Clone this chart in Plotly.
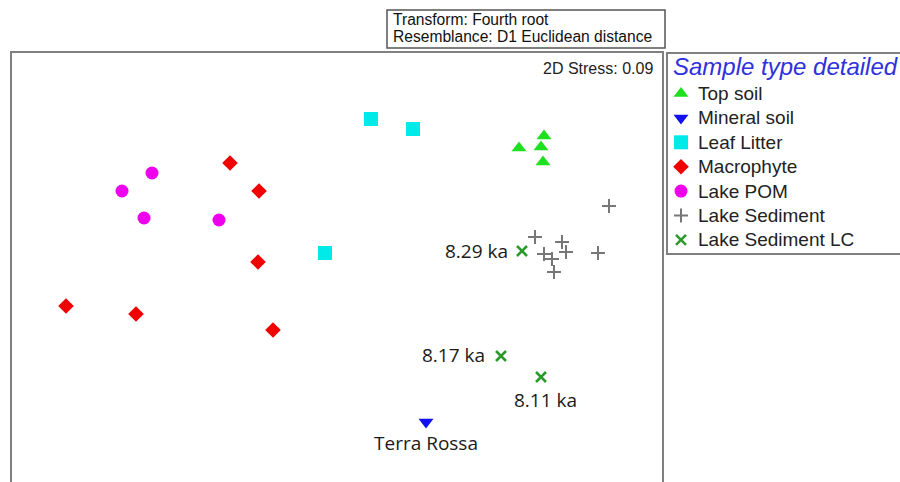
import plotly.graph_objects as go

# ---- data (arbitrary nMDS units) ----
top_soil_x = [1.79, 2.04, 2.01, 2.03]
top_soil_y = [1.32, 1.44, 1.33, 1.18]

mineral_x = [0.86]
mineral_y = [-1.42]
mineral_labels = ["Terra Rossa"]

leaf_x = [0.31, 0.73, -0.15]
leaf_y = [1.61, 1.51, 0.27]

macro_x = [-1.10, -0.81, -0.82, -2.74, -2.04, -0.67]
macro_y = [1.17, 0.89, 0.18, -0.26, -0.34, -0.50]

pom_x = [-1.88, -2.18, -1.96, -1.21]
pom_y = [1.07, 0.89, 0.62, 0.60]

sed_x = [2.69, 1.95, 2.22, 2.04, 2.12, 2.26, 2.58, 2.14]
sed_y = [0.74, 0.43, 0.38, 0.26, 0.21, 0.28, 0.27, 0.08]

lc_x = [1.82, 1.61, 2.01]
lc_y = [0.29, -0.76, -0.97]
lc_labels = ["8.29 ka", "8.17 ka", "8.11 ka"]

categories = ["Top soil", "Mineral soil", "Leaf Litter", "Macrophyte",
              "Lake POM", "Lake Sediment", "Lake Sediment LC"]
stress_text = "2D Stress: 0.09"
info_lines = ["Transform: Fourth root", "Resemblance: D1 Euclidean distance"]
legend_title = "Sample type detailed"

# ---- styles ----
styles = {
    "Top soil": dict(symbol="triangle-up", size=13, color="#1fe01f", line=dict(width=0)),
    "Mineral soil": dict(symbol="triangle-down", size=13, color="#1010f0", line=dict(width=0)),
    "Leaf Litter": dict(symbol="square", size=14, color="#00eaea", line=dict(width=0)),
    "Macrophyte": dict(symbol="diamond", size=12, color="#f00000", line=dict(width=0)),
    "Lake POM": dict(symbol="circle", size=13, color="#ee00ee", line=dict(width=0)),
    "Lake Sediment": dict(symbol="cross-thin", size=10, color="#777777",
                          line=dict(width=2, color="#777777")),
    "Lake Sediment LC": dict(symbol="x-thin", size=10, color="#2a9a2a",
                             line=dict(width=2.5, color="#2a9a2a")),
}
series = {
    "Top soil": (top_soil_x, top_soil_y),
    "Mineral soil": (mineral_x, mineral_y),
    "Leaf Litter": (leaf_x, leaf_y),
    "Macrophyte": (macro_x, macro_y),
    "Lake POM": (pom_x, pom_y),
    "Lake Sediment": (sed_x, sed_y),
    "Lake Sediment LC": (lc_x, lc_y),
}

W, H = 900, 482
fig = go.Figure()

for name in categories:
    xs, ys = series[name]
    fig.add_trace(go.Scatter(x=xs, y=ys, mode="markers", name=name,
                             marker=styles[name], showlegend=False,
                             hoverinfo="skip", cliponaxis=False))

# manual legend markers on a dedicated axis
for i, name in enumerate(categories):
    fig.add_trace(go.Scatter(x=[14], y=[i], mode="markers", marker=styles[name],
                             xaxis="x2", yaxis="y2", showlegend=False,
                             hoverinfo="skip", cliponaxis=False))

label_font = dict(family="Open Sans", size=19, color="#1a1a1a")
ann = []
# LC labels
offsets = [dict(xanchor="right", yanchor="middle", xshift=-12, yshift=0),
           dict(xanchor="right", yanchor="middle", xshift=-14, yshift=1),
           dict(xanchor="center", yanchor="middle", xshift=4, yshift=-23)]
for x, y, t, o in zip(lc_x, lc_y, lc_labels, offsets):
    ann.append(dict(x=x, y=y, xref="x", yref="y", text=t, showarrow=False,
                    font=label_font, **o))
for x, y, t in zip(mineral_x, mineral_y, mineral_labels):
    ann.append(dict(x=x, y=y, xref="x", yref="y", text=t, showarrow=False,
                    font=label_font, xanchor="center", yanchor="middle", yshift=-21))

# stress
ann.append(dict(x=655 / W, y=1 - 69 / H, xref="paper", yref="paper", text=stress_text,
                showarrow=False, xanchor="right", yanchor="middle",
                font=dict(family="Liberation Sans, Arial", size=16, color="#222222")))
# info box lines
for j, line in enumerate(info_lines):
    ann.append(dict(x=391 / W, y=1 - (20 + 17 * j) / H, xref="paper", yref="paper",
                    text=line, showarrow=False, xanchor="left", yanchor="middle",
                    font=dict(family="Liberation Sans, Arial", size=15.6, color="#111111")))
# legend title
ann.append(dict(x=671 / W, y=1 - 67 / H, xref="paper", yref="paper", text=legend_title,
                showarrow=False, xanchor="left", yanchor="middle",
                font=dict(family="Liberation Sans, Arial", size=24, color="#3030dd",
                          style="italic")))
# legend labels
for i, name in enumerate(categories):
    ann.append(dict(x=29, y=i, xref="x2", yref="y2", text=name, showarrow=False,
                    xanchor="left", yanchor="middle",
                    font=dict(family="Liberation Sans, Arial", size=19, color="#222222")))

shapes = [
    # plot frame (bottom runs off the picture)
    dict(type="rect", xref="paper", yref="paper", x0=11 / W, x1=663 / W,
         y0=-0.1, y1=1 - 52 / H, line=dict(color="#808080", width=2)),
    # legend frame
    dict(type="rect", xref="paper", yref="paper", x0=667 / W, x1=1.05,
         y0=1 - 254 / H, y1=1 - 53 / H, line=dict(color="#808080", width=2)),
    # info box
    dict(type="rect", xref="paper", yref="paper", x0=387 / W, x1=665 / W,
         y0=1 - 48 / H, y1=1 - 10 / H, line=dict(color="#555555", width=1.5)),
]

fig.update_layout(
    width=W, height=H,
    margin=dict(l=0, r=0, t=0, b=0),
    paper_bgcolor="white", plot_bgcolor="white",
    showlegend=False,
    xaxis=dict(domain=[11 / W, 663 / W], range=[-3.29, 3.23], visible=False, fixedrange=True),
    yaxis=dict(domain=[0, 1 - 52 / H], range=[-2.02, 2.28], visible=False, fixedrange=True),
    xaxis2=dict(domain=[667 / W, 1], range=[0, 233], visible=False, anchor="y2",
                fixedrange=True),
    yaxis2=dict(domain=[0, 1], range=[(482 - 93.5) / 24.4, -93.5 / 24.4],
                visible=False, anchor="x2", fixedrange=True),
    annotations=ann,
    shapes=shapes,
)

fig.write_html("out.html", config={"displayModeBar": False, "staticPlot": True},
               post_script="document.body.style.margin='0';")
